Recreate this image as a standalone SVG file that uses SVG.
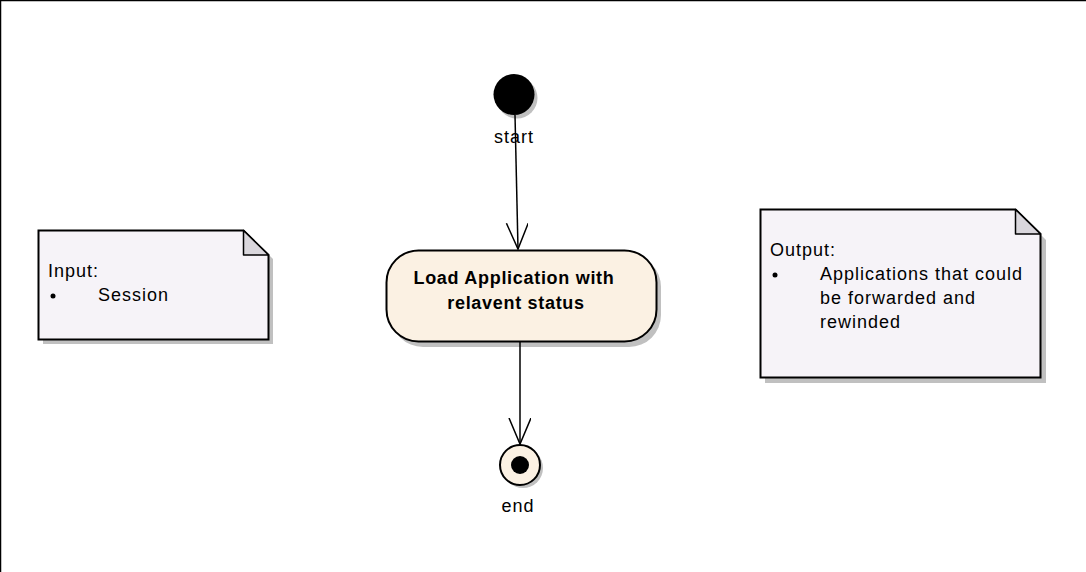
<svg xmlns="http://www.w3.org/2000/svg" width="1086" height="572" viewBox="0 0 1086 572">
<style>
.t{font-family:"Liberation Sans",Arial,sans-serif;font-size:18px;letter-spacing:1px;fill:#000}
.b{font-family:"Liberation Sans",Arial,sans-serif;font-size:18px;font-weight:bold;letter-spacing:0.7px;fill:#000}
.sh{fill:#c0c0c0;stroke:none}
.note{fill:#f6f3f8;stroke:#000;stroke-width:2}
.fold{fill:#d9d6dc;stroke:#000;stroke-width:1.5;stroke-linejoin:round}
.edge{fill:none;stroke:#000;stroke-width:1.5}
</style>
<defs>
<marker id="open" markerWidth="30" markerHeight="30" refX="26" refY="11" orient="auto" markerUnits="userSpaceOnUse">
<path d="M0,0 L26,11 L0,22" fill="none" stroke="#000" stroke-width="1.5"/>
</marker>
</defs>
<rect width="1086" height="572" fill="#fff"/>
<path d="M0.5,572 V0.5 H1086" fill="none" stroke="#000" stroke-width="1.5"/>

<g id="start">
<circle class="sh" cx="517" cy="98" r="20.5"/>
<circle cx="514" cy="94.5" r="20.5" fill="#000"/>
<text class="t" x="514" y="143" text-anchor="middle">start</text>
</g>

<g id="load-application">
<rect class="sh" x="391" y="255" width="270" height="92" rx="32"/>
<rect x="386.5" y="250.5" width="270" height="91" rx="32" fill="#fbf1e3" stroke="#000" stroke-width="2"/>
<text class="b" x="514" y="284" text-anchor="middle">Load Application with</text>
<text class="b" x="516" y="309" text-anchor="middle">relavent status</text>
</g>

<g id="end">
<circle class="sh" cx="523" cy="468" r="20"/>
<circle cx="520" cy="465" r="20" fill="#fbf1e3" stroke="#000" stroke-width="2"/>
<circle cx="520" cy="465" r="9" fill="#000"/>
<text class="t" x="518" y="512" text-anchor="middle">end</text>
</g>

<g id="input-note">
<path class="sh" d="M43,235 H249 L273,259 V344 H43 Z"/>
<path class="note" d="M38.5,230.5 H243.5 L268.5,255 V339.5 H38.5 Z"/>
<path class="fold" d="M243.5,230.5 V255 H268.5 Z"/>
<text class="t" x="48" y="277">Input:</text>
<circle cx="53" cy="296" r="2.5" fill="#000"/>
<text class="t" x="98" y="301">Session</text>
</g>

<g id="output-note">
<path class="sh" d="M765,215 H1021 L1046,240 V383 H765 Z"/>
<path class="note" d="M760.5,209.5 H1015.5 L1040.5,234 V377.5 H760.5 Z"/>
<path class="fold" d="M1015.5,209.5 V234 H1040.5 Z"/>
<text class="t" x="770" y="256">Output:</text>
<circle cx="775" cy="275" r="2.5" fill="#000"/>
<text class="t" x="820" y="280">Applications that could</text>
<text class="t" x="820" y="304">be forwarded and</text>
<text class="t" x="820" y="328">rewinded</text>
</g>

<g id="connectors">
<path class="edge" d="M515,115 L518,249" marker-end="url(#open)"/>
<path class="edge" d="M520,342 L520,444" marker-end="url(#open)"/>
</g>
</svg>
